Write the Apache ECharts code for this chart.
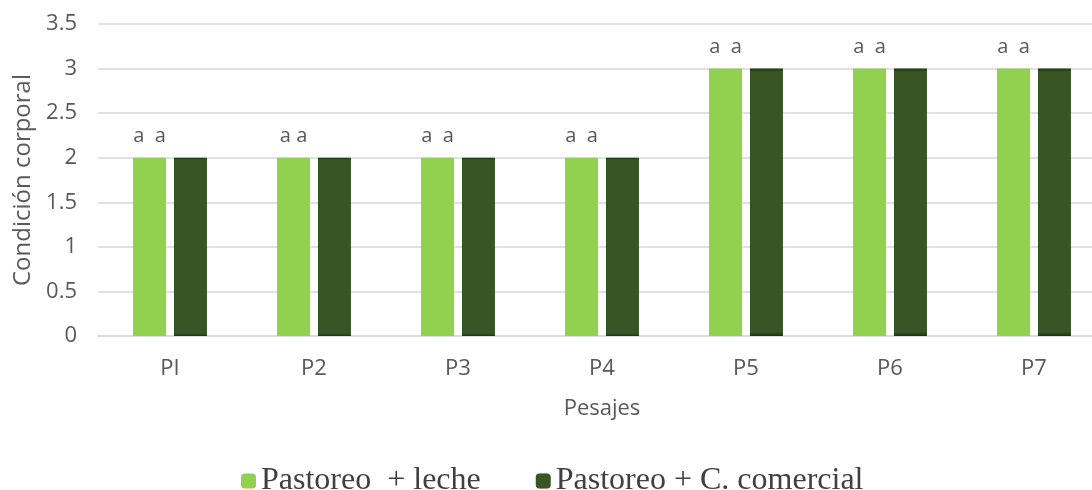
<!DOCTYPE html>
<html>
<head>
<meta charset="utf-8">
<script src="https://cdn.jsdelivr.net/npm/echarts@6/dist/echarts.min.js"></script>
<style>html,body{margin:0;padding:0;background:#fff;overflow:hidden;width:1092px;height:490px}#c{width:1106px;height:490px}</style>
</head>
<body>
<div id="c"></div>
<script>
const categories = ['PI', 'P2', 'P3', 'P4', 'P5', 'P6', 'P7'];
const seriesNames = ['Pastoreo  + leche', 'Pastoreo + C. comercial'];
const lecheValues = [2, 2, 2, 2, 3, 3, 3];
const comercialValues = [2, 2, 2, 2, 3, 3, 3];
const letterLabels = ['a  a', 'a a', 'a  a', 'a  a', 'a  a', 'a  a', 'a  a'];
const yTicks = [0, 0.5, 1, 1.5, 2, 2.5, 3, 3.5];

const chart = echarts.init(document.getElementById('c'));
const axisFont = '"Open Sans", Lato, sans-serif';
chart.setOption({
  animation: false,
  grid: { left: 98, right: 0, top: 24, height: 312 },
  legend: {
    left: 236, top: 460,
    itemWidth: 15, itemHeight: 15, itemGap: 55,
    textStyle: { fontFamily: '"Liberation Serif", serif', fontSize: 32, color: '#404040' },
    data: seriesNames
  },
  xAxis: {
    type: 'category',
    data: categories,
    name: 'Pesajes',
    nameLocation: 'middle',
    nameGap: 62,
    nameTextStyle: { fontFamily: axisFont, fontSize: 22, color: '#595959' },
    axisLine: { show: true, lineStyle: { color: '#d9d9d9', width: 1.5 } },
    axisTick: { show: false },
    axisLabel: { fontFamily: axisFont, fontSize: 22, color: '#595959', margin: 22 }
  },
  yAxis: {
    type: 'value',
    min: 0, max: 3.5, interval: 0.5,
    name: 'Condición corporal',
    nameLocation: 'middle',
    nameGap: 62,
    nameTextStyle: { fontFamily: axisFont, fontSize: 24, color: '#595959' },
    axisLine: { show: false },
    axisTick: { show: false },
    splitLine: { lineStyle: { color: '#d9d9d9', width: 1.5 } },
    axisLabel: { fontFamily: axisFont, fontSize: 22, color: '#595959', margin: 21,
      formatter: v => yTicks.includes(v) ? String(v) : '' }
  },
  series: [
    {
      name: seriesNames[0], type: 'bar', data: lecheValues,
      barWidth: 33, barGap: '24%',
      itemStyle: { color: '#92D050' },
      label: {
        show: true, position: 'top', distance: 11,
        formatter: p => letterLabels[p.dataIndex],
        fontFamily: axisFont, fontSize: 20, color: '#595959'
      }
    },
    {
      name: seriesNames[1], type: 'bar', data: comercialValues,
      barWidth: 33,
      itemStyle: {
        color: new echarts.graphic.LinearGradient(0, 0, 0, 1, [
          { offset: 0, color: '#1c3210' },
          { offset: 0.012, color: '#375623' },
          { offset: 0.985, color: '#375623' },
          { offset: 1, color: '#1c3210' }
        ])
      }
    }
  ]
});
</script>
</body>
</html>
